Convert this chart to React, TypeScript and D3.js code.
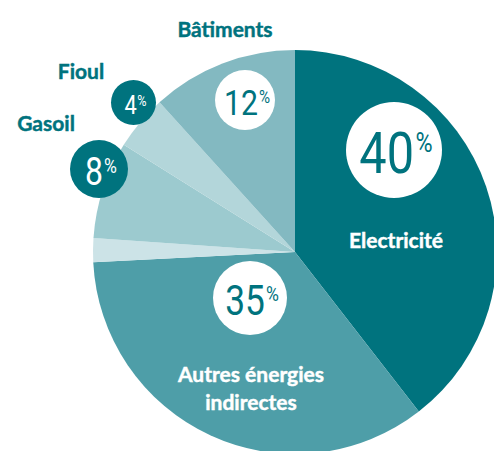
import React from "react";
import * as d3 from "d3";

const categories = ["Electricité", "Autres énergies indirectes", "Autres", "Gasoil", "Fioul", "Bâtiments"];
const values = [39.5, 34.7, 1.9, 7.8, 4.4, 11.7];
const percentLabels = ["40", "35", "", "8", "4", "12"];

const W = 494;
const H = 451;
const CX = 295;
const CY = 252;
const R = 202;

const sliceColors = ["#00737e", "#4e9ea8", "#cce3e7", "#9ccacf", "#b3d6da", "#83b9c1"];
const TEAL = "#00737e";

// badge layout per category index: [cx, cy, r, fontSize, pctRatio, dark]
const badgeLayout: Record<number, [number, number, number, number, number, boolean]> = {
  0: [394, 150, 48, 58, 0.48, false],
  1: [250, 298, 37, 42, 0.5, false],
  3: [99, 169, 29, 38, 0.55, true],
  4: [133.5, 102.5, 22.5, 26, 0.58, true],
  5: [245, 100, 30, 36, 0.5, false],
};

const FONT = "Lato, 'Open Sans', sans-serif";
const NUMFONT = "Roboto, sans-serif";

export default function App() {
  const data = categories.map((c, i) => ({ name: c, value: values[i], label: percentLabels[i], i }));
  const pie = d3.pie<any>().sort(null).value((d: any) => d.value);
  const arcs = pie(data);
  const arc = d3.arc<any>().innerRadius(0).outerRadius(R);

  const labelProps = (fill: string, size: number) => ({
    fontFamily: FONT,
    fontWeight: 700,
    fontSize: size,
    fill,
    stroke: fill,
    strokeWidth: 0.45,
    textAnchor: "middle" as const,
  });

  return (
    <svg width={W} height={H} style={{ position: "absolute", left: 0, top: 0, background: "#fff" }}>
      <g transform={`translate(${CX},${CY})`}>
        {arcs.map((a, i) => (
          <path key={i} d={arc(a) as string} fill={sliceColors[i]} />
        ))}
      </g>
      {Object.entries(badgeLayout).map(([k, v]) => {
        const idx = +k;
        const [bx, by, br, fs, ratio, dark] = v;
        const textColor = dark ? "#fff" : TEAL;
        const cap = 0.711 * fs;
        return (
          <g key={k}>
            <circle cx={bx} cy={by} r={br} fill={dark ? TEAL : "#fff"} />
            <g transform={`translate(${bx + 2},${by + cap / 2 + 2.5}) scale(0.84,1)`}>
              <text textAnchor="middle" fontFamily={NUMFONT} fontSize={fs} fill={textColor}>
                <tspan>{percentLabels[idx]}</tspan>
                <tspan fontSize={fs * ratio} dy={-(cap - 0.711 * fs * ratio)} dx={fs * 0.03}>%</tspan>
              </text>
            </g>
          </g>
        );
      })}
      <text x={225} y={37} {...labelProps(TEAL, 21)}>
        {categories[5]}
      </text>
      <text x={81} y={79} {...labelProps(TEAL, 21)}>
        {categories[4]}
      </text>
      <text x={46} y={131} {...labelProps(TEAL, 21)}>
        {categories[3]}
      </text>
      <text x={396} y={248} {...labelProps("#fff", 21)}>
        {categories[0]}
      </text>
      <text {...labelProps("#fff", 21)}>
        <tspan x={251} y={382}>Autres énergies</tspan>
        <tspan x={251} y={410}>indirectes</tspan>
      </text>
    </svg>
  );
}
